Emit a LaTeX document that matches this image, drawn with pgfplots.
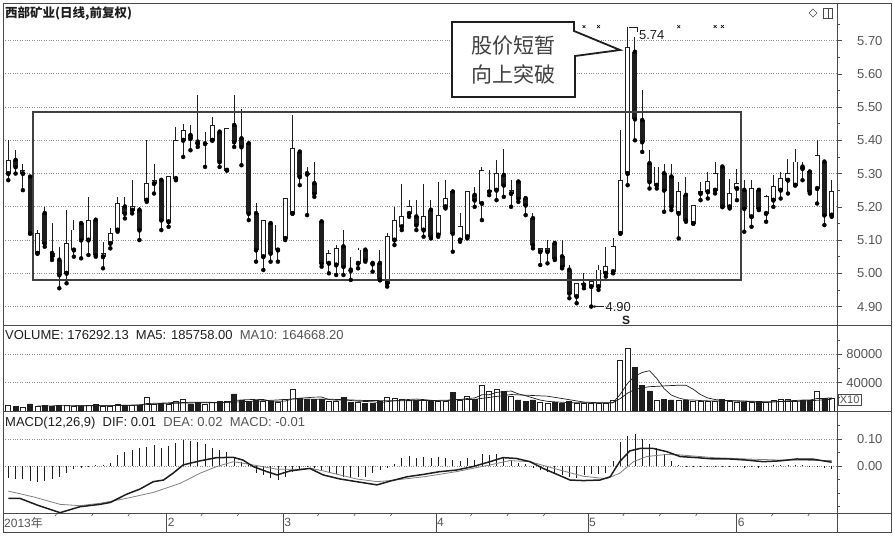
\documentclass[border=0pt]{standalone}
\usepackage{pgfplots}
\pgfplotsset{compat=1.18}
\usepackage{pgfplotstable}
\usepackage{fontspec}
\setmainfont{Liberation Sans}
\newfontfamily\cjk{Noto Sans CJK SC}
\usetikzlibrary{arrows.meta}

\definecolor{ink}{HTML}{1E1E1E}
\definecolor{gridc}{HTML}{8A8A8A}
\definecolor{framec}{HTML}{4A4A4A}
\definecolor{labelc}{HTML}{555555}
\definecolor{dea}{HTML}{808080}

% daily bars: index, open, high, low, close, volume (x10), MACD histogram
\pgfplotstableread{
i o h l c v m
1 5.30 5.40 5.28 5.34 7500 -0.045
2 5.34 5.37 5.30 5.32 6000 -0.05
3 5.30 5.33 5.25 5.31 5000 -0.05
4 5.29 5.29 5.12 5.12 10000 -0.055
5 5.06 5.13 5.06 5.12 7000 -0.06
6 5.18 5.20 5.08 5.09 8000 -0.055
7 5.06 5.15 5.04 5.05 6000 -0.05
8 5.04 5.08 4.955 4.995 7500 -0.04
9 5.00 5.19 4.97 5.09 8500 -0.025
10 5.07 5.16 5.05 5.13 7000 -0.012
11 5.15 5.155 5.045 5.10 6500 -0.006
12 5.10 5.23 5.055 5.16 8000 -0.004
13 5.16 5.165 5.05 5.055 9000 0.003
14 5.05 5.095 5.015 5.06 6500 0.005
15 5.09 5.135 5.075 5.12 7000 0.01
16 5.13 5.23 5.125 5.21 10000 0.04
17 5.20 5.23 5.165 5.18 7500 0.05
18 5.19 5.28 5.18 5.20 8000 0.06
19 5.19 5.20 5.10 5.13 8500 0.065
20 5.22 5.40 5.215 5.27 19000 0.072
21 5.27 5.33 5.24 5.28 9000 0.078
22 5.28 5.28 5.13 5.16 11000 0.065
23 5.155 5.29 5.14 5.29 10000 0.075
24 5.285 5.44 5.28 5.40 13000 0.085
25 5.40 5.45 5.35 5.43 17000 0.096
26 5.415 5.445 5.37 5.405 10000 0.093
27 5.395 5.535 5.38 5.39 12000 0.09
28 5.39 5.425 5.32 5.392 10000 0.08
29 5.40 5.47 5.40 5.445 12000 0.065
30 5.425 5.43 5.32 5.335 13000 0.06
31 5.31 5.435 5.31 5.435 14000 0.05
32 5.445 5.535 5.38 5.395 24000 0.035
33 5.405 5.495 5.325 5.38 15000 0.016
34 5.39 5.39 5.16 5.18 14000 0.004
35 5.18 5.21 5.035 5.07 15000 -0.027
36 5.05 5.16 5.01 5.16 13000 -0.035
37 5.15 5.15 5.035 5.06 14000 -0.046
38 5.07 5.145 5.035 5.145 12000 -0.052
39 5.105 5.225 5.10 5.225 16000 -0.04
40 5.18 5.475 5.18 5.375 30500 -0.021
41 5.365 5.365 5.265 5.29 18000 -0.01
42 5.30 5.32 5.175 5.298 17000 -0.005
43 5.27 5.335 5.23 5.24 16000 -0.008
44 5.155 5.16 5.02 5.03 17000 -0.015
45 5.03 5.07 5.00 5.06 13000 -0.023
46 5.025 5.085 4.995 5.075 13000 -0.03
47 5.08 5.13 4.995 5.02 19000 -0.04
48 5.01 5.05 4.98 5.008 12000 -0.04
49 5.03 5.075 5.015 5.07 12000 -0.04
50 5.07 5.075 5.035 5.04 11000 -0.04
51 5.03 5.035 5.005 5.028 11000 -0.027
52 5.03 5.07 4.98 4.98 13000 -0.015
53 4.97 5.12 4.96 5.11 19000 -0.006
54 5.10 5.20 5.085 5.16 18000 0.006
55 5.14 5.27 5.13 5.17 16000 0.028
56 5.18 5.22 5.17 5.20 15500 0.038
57 5.17 5.22 5.13 5.145 15500 0.031
58 5.13 5.27 5.11 5.17 15500 0.035
59 5.19 5.22 5.105 5.11 13000 0.029
60 5.115 5.275 5.11 5.175 13000 0.035
61 5.20 5.28 5.195 5.225 13000 0.031
62 5.245 5.245 5.065 5.12 26000 0.022
63 5.10 5.18 5.095 5.14 15500 0.018
64 5.11 5.245 5.105 5.245 21000 0.028
65 5.235 5.26 5.20 5.22 16000 0.022
66 5.21 5.32 5.16 5.31 35700 0.043
67 5.245 5.31 5.235 5.25 27000 0.04
68 5.25 5.34 5.22 5.30 31000 0.043
69 5.295 5.375 5.23 5.265 27000 0.028
70 5.24 5.28 5.20 5.25 20000 0.022
71 5.275 5.275 5.215 5.225 15500 0.01
72 5.225 5.225 5.175 5.205 14000 0.006
73 5.165 5.18 5.075 5.085 15500 -0.006
74 5.065 5.075 5.025 5.075 12000 -0.015
75 5.065 5.10 5.03 5.075 11000 -0.023
76 5.09 5.09 5.04 5.045 12000 -0.03
77 5.05 5.10 5.015 5.02 11000 -0.035
78 5.01 5.025 4.925 4.94 13000 -0.04
79 4.93 4.97 4.91 4.97 11000 -0.046
80 4.965 5.00 4.955 4.97 10800 -0.035
81 4.96 4.98 4.90 4.975 10800 -0.03
82 4.96 5.025 4.95 5.01 10800 -0.03
83 5.00 5.08 4.99 5.02 10800 -0.025
84 5.005 5.105 5.00 5.08 15500 0.02
85 5.12 5.43 5.12 5.28 70800 0.088
86 5.30 5.74 5.265 5.68 88300 0.112
87 5.665 5.71 5.40 5.464 61000 0.117
88 5.46 5.55 5.365 5.395 35700 0.10
89 5.33 5.37 5.255 5.275 28200 0.08
90 5.265 5.32 5.255 5.32 15500 0.065
91 5.30 5.33 5.185 5.25 16900 0.045
92 5.29 5.33 5.19 5.20 15500 0.02
93 5.18 5.275 5.105 5.245 15500 0.005
94 5.235 5.29 5.155 5.16 15500 -0.003
95 5.15 5.205 5.15 5.205 14000 -0.004
96 5.24 5.275 5.22 5.245 13000 -0.005
97 5.245 5.305 5.225 5.275 13500 -0.004
98 5.25 5.335 5.24 5.30 14000 -0.003
99 5.32 5.32 5.20 5.20 16900 -0.004
100 5.20 5.285 5.195 5.24 13000 -0.005
101 5.255 5.315 5.22 5.27 12000 -0.004
102 5.25 5.28 5.125 5.195 12000 -0.006
103 5.17 5.28 5.14 5.255 12000 -0.005
104 5.25 5.255 5.19 5.195 12000 -0.006
105 5.18 5.235 5.155 5.23 12000 -0.004
106 5.22 5.295 5.20 5.26 15000 0.002
107 5.25 5.305 5.225 5.285 16000 0.003
108 5.28 5.345 5.24 5.30 17000 0.004
109 5.265 5.375 5.265 5.335 14000 0.005
110 5.32 5.335 5.28 5.315 15000 0.003
111 5.305 5.305 5.24 5.245 15000 -0.004
112 5.255 5.40 5.21 5.355 27000 -0.003
113 5.335 5.34 5.145 5.175 18000 -0.008
114 5.175 5.28 5.17 5.245 17629 -0.01
}\kline

\pgfplotsset{
  panel/.style={
    scale only axis, width=834pt,
    xmin=0.273, xmax=114.73,
    axis x line=none, axis y line*=right,
    y axis line style={draw=framec, line width=0.7pt},
    tick align=outside, major tick length=5pt, minor tick length=3pt,
    every tick/.style={framec, line width=0.6pt},
    ymajorgrids, grid style={gridc, dotted, line width=0.7pt},
    yticklabel style={font=\fontsize{13}{13}\selectfont, text=labelc, anchor=east, xshift=44pt},
    /pgf/number format/assume math mode=true,
  },
  tip/.style={only marks, mark=none, forget plot},
}
\tikzset{img/.style={x=1pt, y=-1pt, yshift=538pt}}

\begin{document}
\begin{tikzpicture}
\path[use as bounding box] (0,0) rectangle (893pt,538pt);

% ---------------- price panel ----------------
\begin{axis}[panel, at={(3pt,213pt)}, anchor=south west, height=321pt,
  ymin=4.8445, ymax=5.810,
  ytick={4.9,5.0,5.1,5.2,5.3,5.4,5.5,5.6,5.7},
  minor ytick={4.95,5.05,5.15,5.25,5.35,5.45,5.55,5.65,5.75},
  yticklabel style={/pgf/number format/.cd, fixed, fixed zerofill, precision=2},
]
% shadows
\addplot[tip, error bars/.cd, y dir=plus, y explicit, error mark=none,
  error bar style={draw=ink, line width=1pt}]
  table[x=i, y=l, y error expr={\thisrow{h}-\thisrow{l}}] {\kline};
% bodies
\addplot[tip, error bars/.cd, y dir=plus, y explicit, error mark=none,
  error bar style={draw=ink, line width=5pt}]
  table[x=i, y expr={min(\thisrow{o},\thisrow{c})-0.0012},
        y error expr={abs(\thisrow{c}-\thisrow{o})+0.0024}] {\kline};
% hollow inside of rising days
\addplot[tip, error bars/.cd, y dir=plus, y explicit, error mark=none,
  error bar style={draw=white, line width=3.3pt}]
  table[x=i, y expr={\thisrow{o}+0.0012},
        y error expr={ifthenelse(\thisrow{c}>\thisrow{o}, max(\thisrow{c}-\thisrow{o}-0.0024,0), 0)}] {\kline};
% signal crosses
\addplot[only marks, mark=x, mark size=2pt, ink, line width=0.7pt]
  coordinates {(80,5.742) (82,5.742) (93,5.742) (98,5.742) (99,5.742)};
% trading range
\draw[ink!85, line width=1.8pt] (axis cs:4.39,5.485) rectangle (axis cs:101.55,4.98);
% extremes
\draw[ink, line width=0.7pt] (axis cs:86.2,5.74) -- (axis cs:87.3,5.74) -- (axis cs:87.3,5.725);
\node[anchor=west, font=\fontsize{13}{13}\selectfont, text=ink, inner sep=1pt] at (axis cs:87.4,5.715) {5.74};
\draw[ink, line width=0.7pt, -{Stealth[length=4pt,width=3pt]}] (axis cs:82.8,4.90) -- (axis cs:81.05,4.90);
\node[anchor=west, font=\fontsize{13}{13}\selectfont, text=ink, inner sep=1pt] at (axis cs:82.8,4.90) {4.90};
\end{axis}

% ---------------- volume panel ----------------
\begin{axis}[panel, at={(3pt,127pt)}, anchor=south west, height=86pt,
  ymin=0, ymax=121127, ytick={40000,80000}, minor ytick={20000,60000,100000},
  scaled y ticks=false,
  yticklabel style={/pgf/number format/.cd, fixed, 1000 sep={}},
]
\addplot[ybar, bar width=5pt, bar shift=0pt, draw=ink, fill=white, line width=0.8pt]
  table[x=i, y expr={ifthenelse(\thisrow{c}>=\thisrow{o}, \thisrow{v}, 0)}] {\kline};
\addplot[ybar, bar width=5pt, bar shift=0pt, draw=ink, fill=ink, line width=0.8pt]
  table[x=i, y expr={ifthenelse(\thisrow{c}<\thisrow{o}, \thisrow{v}, 0)}] {\kline};
% MA5
\addplot[ink, line width=0.7pt] coordinates {
(5,7100)(6,7200)(7,7200)(8,7700)(9,7400)(10,7400)(11,7500)(12,7500)(13,7800)(14,7400)
(15,7400)(16,8100)(17,8000)(18,7800)(19,8200)(20,10600)(21,10800)(22,11100)(23,11500)(24,12400)
(25,12000)(26,12200)(27,12400)(28,12400)(29,12200)(30,11400)(31,12200)(32,14600)(33,15600)(34,16000)
(35,16400)(36,16200)(37,14200)(38,13600)(39,14000)(40,17100)(41,18100)(42,18700)(43,19500)(44,19700)
(45,16200)(46,15200)(47,15600)(48,14800)(49,13800)(50,13400)(51,13000)(52,11800)(53,13200)(54,14400)
(55,15400)(56,16300)(57,16800)(58,16100)(59,15100)(60,14500)(61,14000)(62,16100)(63,16100)(64,17700)
(65,18300)(66,22840)(67,23040)(68,26140)(69,27340)(70,28140)(71,24100)(72,21500)(73,18400)(74,15400)
(75,13600)(76,12900)(77,12300)(78,11800)(79,11600)(80,11560)(81,11320)(82,11280)(83,11240)(84,11740)
(85,23740)(86,39240)(87,49280)(88,54260)(89,56800)(90,45740)(91,31460)(92,22360)(93,18320)(94,15780)
(95,15480)(96,14700)(97,14300)(98,14000)(99,14280)(100,14280)(101,13880)(102,13580)(103,13180)(104,12200)
(105,12000)(106,12600)(107,13400)(108,14400)(109,14800)(110,15400)(111,15400)(112,17600)(113,17800)(114,18576)};
% MA10
\addplot[ink, line width=0.7pt] coordinates {
(10,7250)(15,7400)(20,9000)(25,11300)(30,11700)(35,13900)(40,16750)(45,16650)(50,14800)(55,14400)
(60,14950)(65,16400)(70,23220)(75,20870)(80,12580)(82,11640)(84,11670)(85,17650)(86,25280)(87,30280)
(88,32550)(89,34270)(90,34740)(91,35350)(92,35820)(93,36290)(94,36290)(95,30610)(96,23080)(97,18330)
(98,16160)(99,15030)(100,14780)(105,13040)(110,13700)(114,16467)};
\end{axis}

% ---------------- MACD panel ----------------
\begin{axis}[panel, at={(3pt,25pt)}, anchor=south west, height=102pt,
  ymin=-0.1741, ymax=0.2037, ytick={0,0.1}, minor ytick={-0.15,-0.1,-0.05,0.05,0.15},
  yticklabel style={/pgf/number format/.cd, fixed, fixed zerofill, precision=2},
]
\addplot[ycomb, ink, line width=0.8pt, mark=none] table[x=i, y=m] {\kline};
% DEA
\addplot[dea, line width=0.8pt, mark=none] coordinates {
(1,-0.093)(4.4,-0.114)(8.1,-0.142)(10.8,-0.147)(13.6,-0.138)(17.2,-0.120)(20.9,-0.098)(24.6,-0.064)
(27.3,-0.027)(29.6,-0.002)(31.9,0.016)(34.6,0.004)(37.9,-0.012)(41,-0.012)(42.4,-0.008)(44.2,-0.018)
(48.8,-0.048)(51.6,-0.058)(53.4,-0.054)(58,-0.040)(62.5,-0.021)(67.1,0.004)(69.8,0.020)(72.6,0.016)
(76.3,-0.012)(79.9,-0.038)(83.1,-0.047)(84.9,-0.027)(86.8,0.016)(88.6,0.035)(91.4,0.043)(93.2,0.041)
(97.8,0.031)(102.3,0.026)(106.9,0.022)(114,0.020)};
% DIF
\addplot[ink, line width=1.5pt, mark=none] coordinates {
(1,-0.120)(2.6,-0.120)(5,-0.145)(8.1,-0.173)(10.8,-0.151)(13.6,-0.142)(15,-0.135)(17.2,-0.105)
(19.1,-0.085)(20.9,-0.058)(22.3,-0.052)(23.6,-0.027)(25,0.004)(27.3,0.019)(29.6,0.031)(31.9,0.032)
(33.2,0.022)(34.6,-0.002)(36.5,-0.021)(37.9,-0.033)(39.7,-0.018)(42.4,-0.009)(44.2,-0.033)(46.5,-0.048)
(48.8,-0.058)(51.6,-0.070)(53.4,-0.056)(55.7,-0.040)(58,-0.031)(60.2,-0.021)(62.5,-0.015)(64.8,-0.002)
(67.1,0.016)(68.9,0.031)(70.7,0.028)(72.6,0.016)(74.4,-0.009)(76.3,-0.031)(78.1,-0.052)(79.9,-0.054)
(82.2,-0.052)(83.6,-0.040)(84.9,0.016)(86.3,0.056)(87.7,0.065)(89.5,0.065)(91.4,0.053)(93.2,0.035)
(95.5,0.031)(97.8,0.026)(100,0.026)(102.3,0.022)(104.6,0.016)(106.9,0.019)(109.2,0.026)(111.5,0.025)
(114,0.014)};
\end{axis}

% ---------------- date strip ----------------
\begin{axis}[scale only axis, width=834pt, height=19pt, at={(3pt,6pt)}, anchor=south west,
  xmin=0.273, xmax=114.73, ymin=0, ymax=1, axis lines=none, clip=false]
\pgfplotsinvokeforeach{22.74,38.74,59.69,80.55,100.96}{
  \draw[framec, line width=0.7pt] (axis cs:#1,0) -- (axis cs:#1,1);}
\pgfplotsinvokeforeach{7.7,12.7,17.7,27.7,32.7,43.7,48.7,53.7,64.7,69.7,74.7,85.6,90.6,95.6,106,111}{
  \draw[framec, line width=0.6pt] (axis cs:#1,1) -- ++(0,-3pt);}
\node[anchor=west, font=\fontsize{12}{12}\selectfont, text=labelc, inner sep=1pt] at (axis cs:0.273,0.5) {2013{\cjk 年}};
\node[anchor=west, font=\fontsize{12}{12}\selectfont, text=labelc, inner sep=1pt] at (axis cs:22.74,0.5) {2};
\node[anchor=west, font=\fontsize{12}{12}\selectfont, text=labelc, inner sep=1pt] at (axis cs:38.74,0.5) {3};
\node[anchor=west, font=\fontsize{12}{12}\selectfont, text=labelc, inner sep=1pt] at (axis cs:59.69,0.5) {4};
\node[anchor=west, font=\fontsize{12}{12}\selectfont, text=labelc, inner sep=1pt] at (axis cs:80.55,0.5) {5};
\node[anchor=west, font=\fontsize{12}{12}\selectfont, text=labelc, inner sep=1pt] at (axis cs:100.96,0.5) {6};
\end{axis}

% ---------------- frame, captions, callout ----------------
\begin{scope}[img]
\draw[framec, line width=0.9pt] (3,3) rectangle (891,532);
\draw[framec, line width=0.9pt] (3,325) -- (891,325) (3,411) -- (891,411) (3,513) -- (891,513) (837,3) -- (837,532);
\node[anchor=west, inner sep=0pt, font=\cjk\bfseries\fontsize{12.5}{12.5}\selectfont, text=ink] at (5,14) {西部矿业(日线,前复权)};
\node[anchor=west, inner sep=0pt, font=\fontsize{13}{13}\selectfont, text=ink] at (5,335)
  {VOLUME: 176292.13 \ MA5: 185758.00 \ {\color{labelc}MA10: 164668.20}};
\node[anchor=west, inner sep=0pt, font=\fontsize{13}{13}\selectfont, text=ink] at (5,423)
  {MACD(12,26,9) \ DIF: 0.01 \ {\color{labelc}DEA: 0.02 \ MACD: -0.01}};
\node[draw=framec, line width=0.6pt, anchor=west, inner sep=1.5pt, font=\fontsize{11}{11}\selectfont, text=labelc] at (838,400) {X10};
% small toolbar glyphs
\draw[framec, line width=0.6pt] (813,9) -- (817,13) -- (813,17) -- (809,13) -- cycle;
\draw[framec, line width=0.6pt] (823,8) rectangle (832,18) (828,8) -- (828,18);
% callout
\draw[ink, line width=1.8pt, fill=white, line join=miter]
  (452,22) -- (574,22) -- (574,31) -- (620,50) -- (575,56) -- (575,97) -- (452,97) -- cycle;
\node[font=\cjk\fontsize{21}{21}\selectfont, text=ink!85] at (513.5,46) {股价短暂};
\node[font=\cjk\fontsize{21}{21}\selectfont, text=ink!85] at (513.5,74) {向上突破};
\node[font=\fontsize{12}{12}\selectfont\bfseries, text=ink, inner sep=0pt] at (626,320) {S};
\end{scope}
\end{tikzpicture}
\end{document}
